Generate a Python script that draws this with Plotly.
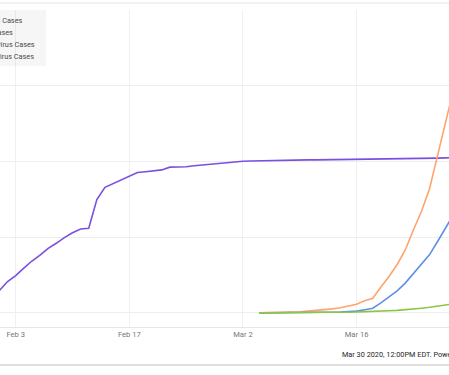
import pandas as pd
import plotly.graph_objects as go

# ---- data ----
china_start = "2020-01-31"
china_cases = [9800, 11890, 16630, 19720, 23710, 27440, 30590, 34110, 36810, 39830,
               42350, 44390, 44760, 59900, 66360, 68410, 70510, 72430, 74210, 74620,
               75080, 75550, 77000, 77020, 77240, 77750, 78170, 78600, 78930, 79360,
               79930, 80140, 80260, 80390, 80540, 80690, 80770, 80820, 80840, 80860,
               80880, 80920, 80930, 80950, 80970, 81000, 81050, 81100, 81160, 81250,
               81300, 81400, 81500, 81590, 81660, 81780, 81900, 82050]

us_start = "2020-03-04"
us_cases = [150, 220, 260, 400, 520, 580, 960, 1280, 1660, 2180, 2730, 3500, 4630,
            6420, 7780, 13750, 19270, 25600, 33280, 43850, 53740, 65780, 83840,
            100500, 119000]
ny_cases = [11, 23, 31, 76, 106, 142, 173, 220, 328, 421, 525, 732, 967, 1706, 2495,
            5365, 8310, 11710, 15790, 20880, 25680, 30840, 37880, 44880, 52410]
ca_cases = [53, 60, 70, 88, 101, 114, 144, 177, 221, 282, 340, 426, 557, 698, 751,
            952, 1177, 1364, 1642, 2108, 2538, 2998, 3600, 4200, 4900]

series_names = ["China Coronavirus Cases", "US Coronavirus Cases",
                "New York Coronavirus Cases", "California Coronavirus Cases"]
series_colors = ["#7b4fdf", "#ffa46c", "#5f8fe6", "#8cc644"]

tick_vals = ["2020-02-03", "2020-02-17", "2020-03-02", "2020-03-16"]
tick_text = ["Feb 3", "Feb 17", "Mar 2", "Mar 16"]
credit = "Mar 30 2020, 12:00PM EDT. Powered by YCharts"

W, H = 449, 375
T, B = 10, 48
plot_h = H - T - B

china_dates = pd.date_range(china_start, periods=len(china_cases), freq="D")
us_dates = pd.date_range(us_start, periods=len(us_cases), freq="D")

fig = go.Figure()
for name, color, x, y in [
    (series_names[0], series_colors[0], china_dates, china_cases),
    (series_names[1], series_colors[1], us_dates, us_cases),
    (series_names[2], series_colors[2], us_dates, ny_cases),
    (series_names[3], series_colors[3], us_dates, ca_cases),
]:
    fig.add_trace(go.Scatter(x=x, y=y, mode="lines", name=name,
                             line=dict(color=color, width=1.6), showlegend=False))

def py(pix):
    return (H - B - pix) / plot_h

def px(pix):
    return pix / W

shapes = [
    dict(type="rect", xref="paper", yref="paper", x0=-0.05, x1=px(46),
         y0=py(66), y1=py(10), fillcolor="rgba(0,0,0,0.035)", line=dict(width=0),
         layer="above"),
    dict(type="line", xref="paper", yref="paper", x0=-0.01, x1=1.01,
         y0=py(3), y1=py(3), line=dict(color="#e4e4e4", width=1)),
    dict(type="line", xref="paper", yref="paper", x0=-0.01, x1=1.01,
         y0=py(365), y1=py(365), line=dict(color="#dedede", width=2)),
]

annotations = []
leg_right = [23.5, 13.5, 36, 35]
leg_y = [20, 32.3, 44.3, 56.7]
for name, r, yy in zip(series_names, leg_right, leg_y):
    annotations.append(dict(text=name, xref="paper", yref="paper", x=px(r), y=py(yy),
                            xanchor="right", yanchor="middle", showarrow=False,
                            borderpad=0, font=dict(size=7.3, color="#4a4a4a",
                                                   family="Roboto")))
annotations.append(dict(text=credit, xref="paper", yref="paper", x=px(341), y=py(355),
                        xanchor="left", yanchor="middle", showarrow=False, borderpad=0,
                        font=dict(size=7.3, color="#1e1e1e", family="Roboto")))

fig.update_layout(
    width=W, height=H,
    margin=dict(l=0, r=0, t=T, b=B, autoexpand=False),
    paper_bgcolor="white", plot_bgcolor="white",
    font=dict(family="Roboto", size=8, color="#777777"),
    shapes=shapes, annotations=annotations,
    xaxis=dict(range=["2020-02-01 01:35", "2020-03-27 09:20"], tickvals=tick_vals,
               ticktext=tick_text, showgrid=True, gridcolor="#f0f0f0", gridwidth=1,
               showline=True, linecolor="#e6e6e6", linewidth=1, ticks="",
               tickfont=dict(size=7.6, color="#777777"), zeroline=False),
    yaxis=dict(range=[-7400, 160000], tickvals=[0, 40000, 80000, 120000, 160000],
               showticklabels=False, showgrid=True, gridcolor="#eeeeee", gridwidth=1,
               zeroline=False, ticks=""),
)

fig.write_html("out.html", config={"displayModeBar": False},
               post_script="document.body.style.margin='0';"
                           "document.body.style.overflow='hidden';")
